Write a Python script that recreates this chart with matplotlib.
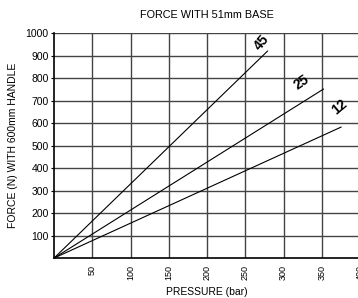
"""Force vs pressure chart for a 51mm base with a 600mm handle."""

from matplotlib import pyplot as plt

plt.rcParams['font.family'] = ['Liberation Sans', 'DejaVu Sans']

# Line end points (each line starts at the origin).
labels = ['45', '25', '12']
pressure_end = [279, 352, 375]    # [bar]
force_end = [920, 751, 582]    # [N]

# Label positions and angles for the line names.
label_xy = [(271, 958), (324, 780), (373, 672)]
label_rot = [50, 35, 40]

x_ticks = [50, 100, 150, 200, 250, 300, 350, 400]
y_ticks = [100, 200, 300, 400, 500, 600, 700, 800, 900, 1000]

fig = plt.figure(figsize=(3.58, 2.98), dpi=100)
ax = fig.add_axes([0.151, 0.134, 0.855, 0.755])

for name, p, f in zip(labels, pressure_end, force_end):
    ax.plot([0, p], [0, f], color='black', lw=0.8)

for name, (x, y), rot in zip(labels, label_xy, label_rot):
    ax.text(x, y, name, rotation=rot, ha='center', va='center',
            fontsize=10, fontweight='bold')

ax.set_xlim(0, 400)
ax.set_ylim(0, 1000)
ax.set_xticks(x_ticks)
ax.set_yticks(y_ticks)
ax.set_xticklabels([str(v) for v in x_ticks], rotation=90)
ax.tick_params(axis='x', length=0, labelsize=6.5, pad=5)
ax.tick_params(axis='y', length=2, labelsize=7.5, pad=2)
ax.grid(True, color='#444444', lw=1)
for side in ['top', 'right']:
    ax.spines[side].set_visible(False)
ax.spines['left'].set_linewidth(1.2)
ax.spines['bottom'].set_linewidth(1.2)

ax.set_title('FORCE WITH 51mm BASE', fontsize=7.8, pad=11)
ax.set_xlabel('PRESSURE (bar)', fontsize=7.5, labelpad=5)
ax.set_ylabel('FORCE (N) WITH 600mm HANDLE', fontsize=7.5, labelpad=5)

fig.savefig('out.png', dpi=100)
